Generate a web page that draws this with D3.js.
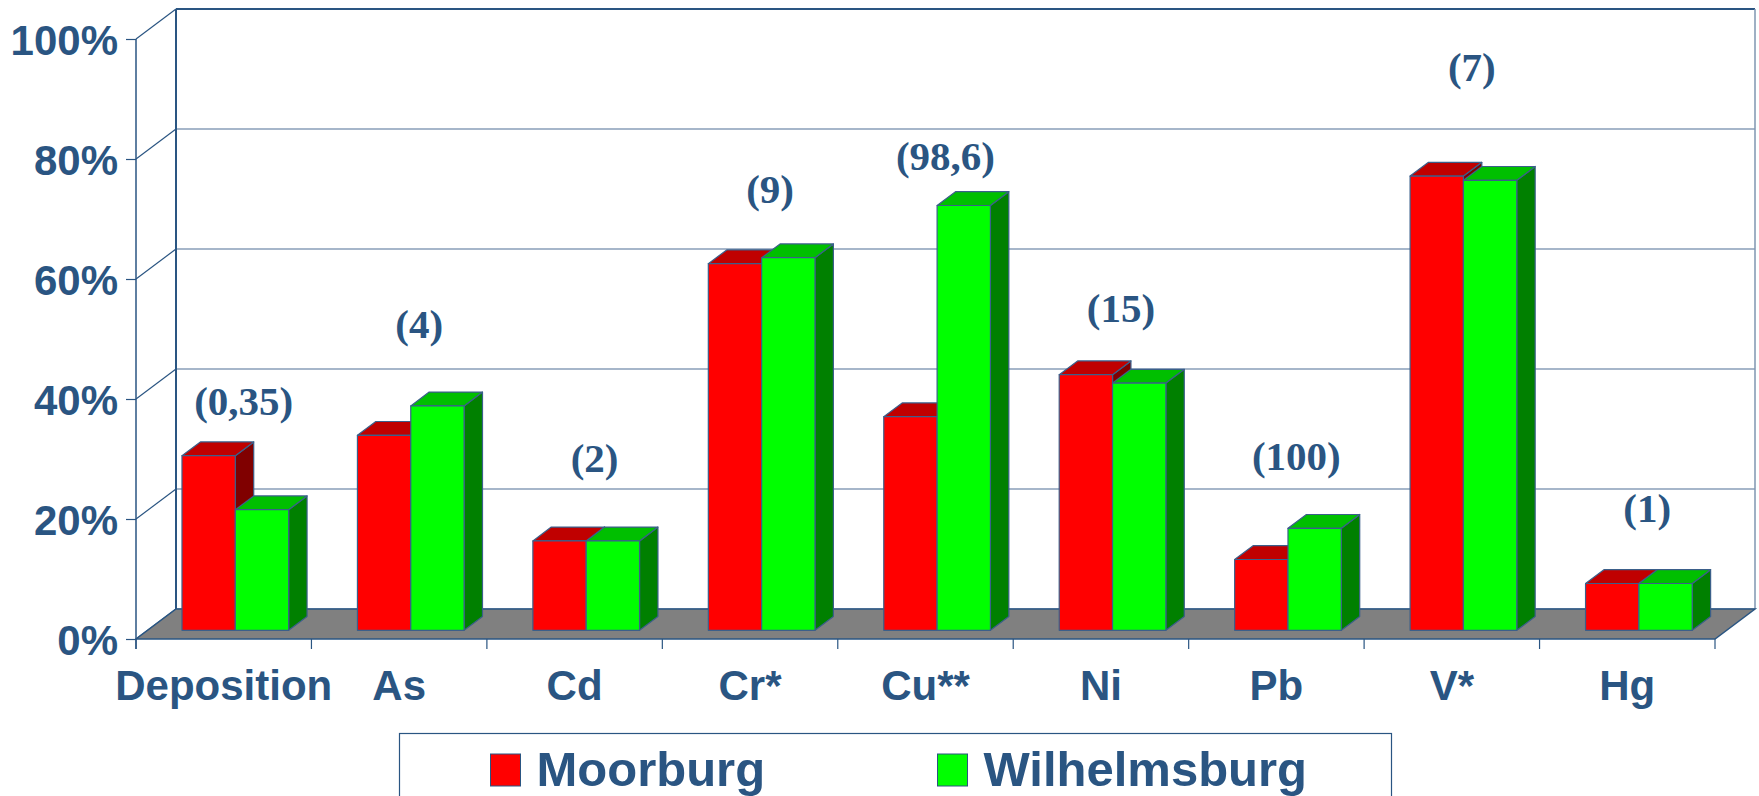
<!DOCTYPE html>
<html>
<head>
<meta charset="utf-8">
<script src="https://cdn.jsdelivr.net/npm/d3@7"></script>
<style>
html, body { margin: 0; padding: 0; background: #fff; }
svg { display: block; }
</style>
</head>
<body>
<svg width="1759" height="796"></svg>
<script>
// data (percent)
var categories = ["Deposition", "As", "Cd", "Cr*", "Cu**", "Ni", "Pb", "V*", "Hg"];
var seriesNames = ["Moorburg", "Wilhelmsburg"];
var moorburg = [29.1, 32.5, 14.9, 61.1, 35.6, 42.6, 11.8, 75.7, 7.8];
var wilhelmsburg = [20.1, 37.4, 14.9, 62.1, 70.8, 41.2, 17.0, 75.0, 7.8];
var annotations = ["(0,35)", "(4)", "(2)", "(9)", "(98,6)", "(15)", "(100)", "(7)", "(1)"];
// height (in %) where each note sits
var annotationLevels = [37.4, 50.1, 27.8, 72.7, 78.1, 52.9, 28.1, 93, 19.5];
var yTicks = [0, 20, 40, 60, 80, 100];

var ink = "#2a5582";
var sans = "'Liberation Sans', Arial, sans-serif";
var serif = "'Liberation Serif', 'Times New Roman', serif";

var svg = d3.select("svg");

// note: "top" is taken by window.top, so prefix these
var plotLeft = 136, plotRight = 1715, plotBottom = 639, plotTop = 39;
var depthX = 40, depthY = 30;          // wall depth
var frontX = 11.6, frontY = 8.7;       // bars start this far back
var barDX = 18.4, barDY = 13.8;        // bar depth

var x = d3.scaleBand().domain(categories).range([plotLeft, plotRight]);
var bw = x.bandwidth();
var pairW = bw * 0.608;
var x1 = d3.scaleBand().domain(seriesNames).range([0, pairW]);
var y = d3.scaleLinear().domain([0, 100]).range([plotBottom, plotTop]);

var faces = {
  Moorburg: { front: "#ff0000", top: "#c00000", side: "#800000" },
  Wilhelmsburg: { front: "#00ff00", top: "#00bf00", side: "#008000" }
};

// back wall grid + diagonals
var grid = svg.append("g");
yTicks.forEach(function(t) {
  var yy = y(t);
  grid.append("line")
    .attr("x1", plotLeft + depthX).attr("x2", plotRight + depthX)
    .attr("y1", yy - depthY).attr("y2", yy - depthY)
    .attr("stroke", t == 100 ? ink : "#4f6f96")
    .attr("stroke-width", t == 100 ? 2 : 1.2);
  grid.append("line")
    .attr("x1", plotLeft).attr("y1", yy)
    .attr("x2", plotLeft + depthX).attr("y2", yy - depthY)
    .attr("stroke", ink).attr("stroke-width", 1.2);
});
grid.append("line")
  .attr("x1", plotLeft + depthX).attr("x2", plotLeft + depthX)
  .attr("y1", y(100) - depthY).attr("y2", y(0) - depthY)
  .attr("stroke", ink).attr("stroke-width", 2);
grid.append("line")
  .attr("x1", plotRight + depthX).attr("x2", plotRight + depthX)
  .attr("y1", y(100) - depthY).attr("y2", y(0) - depthY)
  .attr("stroke", "#7f96b0").attr("stroke-width", 1.5);

// floor
svg.append("polygon")
  .attr("points", [[plotLeft, y(0)], [plotRight, y(0)], [plotRight + depthX, y(0) - depthY], [plotLeft + depthX, y(0) - depthY]].join(" "))
  .attr("fill", "#808080")
  .attr("stroke", ink).attr("stroke-width", 1.5);

// bars
var bars = [];
categories.forEach(function(c, i) {
  bars.push({ cat: c, s: "Moorburg", v: moorburg[i] });
  bars.push({ cat: c, s: "Wilhelmsburg", v: wilhelmsburg[i] });
});

var g = svg.selectAll(".bar").data(bars).enter().append("g").attr("class", "bar");
g.each(function(d) {
  var el = d3.select(this);
  var w = x1.bandwidth();
  var x0 = x(d.cat) + bw / 2 - pairW / 2 + x1(d.s) + frontX;
  var yT = y(d.v) - frontY, yB = y(0) - frontY;
  var col = faces[d.s];
  el.append("polygon")
    .attr("points", [[x0 + w, yT], [x0 + w + barDX, yT - barDY], [x0 + w + barDX, yB - barDY], [x0 + w, yB]].join(" "))
    .attr("fill", col.side);
  el.append("polygon")
    .attr("points", [[x0, yT], [x0 + w, yT], [x0 + w + barDX, yT - barDY], [x0 + barDX, yT - barDY]].join(" "))
    .attr("fill", col.top);
  el.append("rect")
    .attr("x", x0).attr("y", yT)
    .attr("width", w).attr("height", yB - yT)
    .attr("fill", col.front);
  el.selectAll("polygon, rect")
    .attr("stroke", "#3b5f8a").attr("stroke-width", 1.2).attr("stroke-linejoin", "round");
});

// y axis
var yAxis = svg.append("g")
  .attr("transform", "translate(" + plotLeft + ",0)")
  .call(d3.axisLeft(y).tickValues(yTicks).tickSize(10).tickSizeOuter(0).tickPadding(8)
    .tickFormat(function(d) { return d + "%"; }));
yAxis.select(".domain").remove();
yAxis.selectAll("line").attr("stroke", ink).attr("stroke-width", 1.2);
yAxis.selectAll("text")
  .attr("fill", ink)
  .style("font", "bold 42px " + sans)
  .attr("dy", "0.36em");
svg.append("line")
  .attr("x1", plotLeft).attr("x2", plotLeft)
  .attr("y1", y(100)).attr("y2", y(0) + 10)
  .attr("stroke", ink).attr("stroke-width", 1.5);

// x axis ticks at category edges
var edges = categories.map(function(c) { return x(c); }).concat([plotRight]);
svg.selectAll(".xtick").data(edges).enter().append("line")
  .attr("x1", function(d) { return d; }).attr("x2", function(d) { return d; })
  .attr("y1", y(0)).attr("y2", y(0) + 10)
  .attr("stroke", ink).attr("stroke-width", 1.2);

svg.selectAll(".xlab").data(categories).enter().append("text")
  .attr("x", function(d) { return x(d) + bw / 2; })
  .attr("y", 700)
  .attr("text-anchor", "middle")
  .attr("fill", ink)
  .style("font", "bold 42px " + sans)
  .text(function(d) { return d; });

// notes above bars
svg.selectAll(".note").data(annotations).enter().append("text")
  .attr("x", function(d, i) { return x(categories[i]) + bw / 2 + depthX / 2; })
  .attr("y", function(d, i) { return y(annotationLevels[i]); })
  .attr("text-anchor", "middle")
  .attr("fill", ink)
  .style("font", "bold 41px " + serif)
  .text(function(d) { return d; });

// legend
var legend = svg.append("g");
legend.append("rect")
  .attr("x", 399.5).attr("y", 733.5)
  .attr("width", 992).attr("height", 120)
  .attr("fill", "#fff").attr("stroke", ink).attr("stroke-width", 1.2);
var lx = [490.5, 937.5];
seriesNames.forEach(function(s, i) {
  legend.append("rect")
    .attr("x", lx[i]).attr("y", 754)
    .attr("width", 30).attr("height", 32)
    .attr("fill", faces[s].front)
    .attr("stroke", ink).attr("stroke-width", 1);
  legend.append("text")
    .attr("x", lx[i] + 46).attr("y", 786)
    .attr("fill", ink)
    .style("font", "bold 49px " + sans)
    .text(s);
});
</script>
</body>
</html>
